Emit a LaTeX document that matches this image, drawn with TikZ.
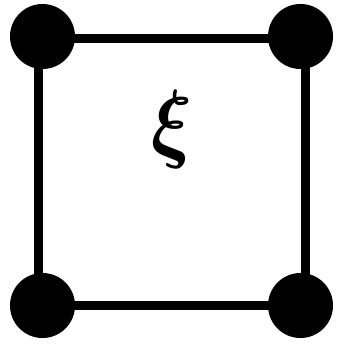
\documentclass[tikz,border=0pt]{standalone}
\usepackage{amsmath,bm}
\begin{document}
\begin{tikzpicture}[x=1pt,y=-1pt,
  dot/.style={circle,fill=black,minimum size=65pt,inner sep=0pt},
  edge/.style={line width=9pt}]
\useasboundingbox (0,0) rectangle (338,344);
\coordinate (ctl) at (38,39);
\coordinate (ctr) at (305.5,39);
\coordinate (cbr) at (305.5,305);
\coordinate (cbl) at (38,305);
\draw[edge] (ctl) -- (ctr) -- (cbr) -- (cbl) -- cycle;
\node[dot] (tl) at (42.5,36.5) {};
\node[dot] (tr) at (300.5,36.5) {};
\node[dot] (bl) at (42.5,305.5) {};
\node[dot] (br) at (300.5,305.5) {};
\node[inner sep=0pt] (xi) at (172,130) {\scalebox{7.6}[8.8]{$\bm{\xi}$}};
\end{tikzpicture}
\end{document}
